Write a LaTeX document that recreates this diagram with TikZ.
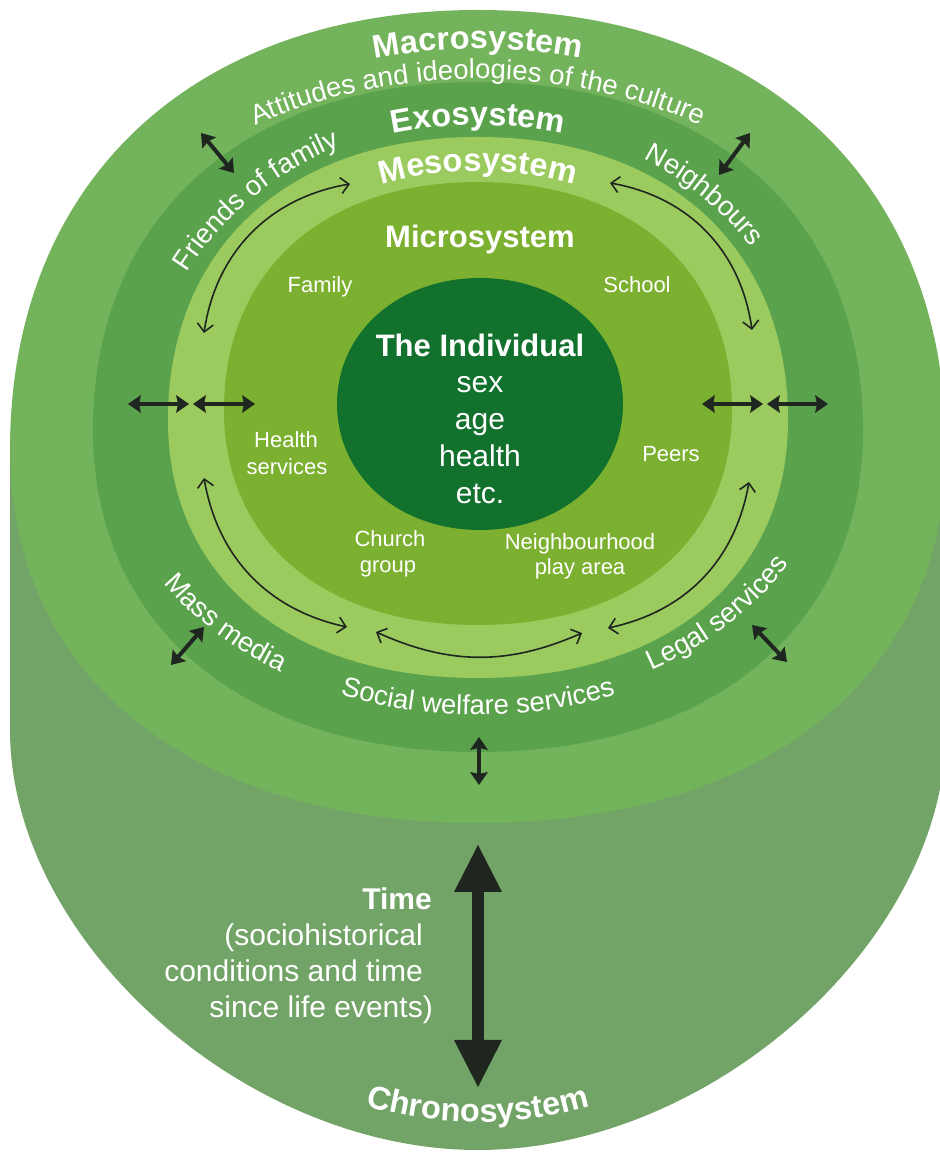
\documentclass[tikz,border=0pt]{standalone}
\usepackage{fontspec}
\setmainfont{Liberation Sans}
\usetikzlibrary{arrows.meta,decorations.text}
\definecolor{cchrono}{RGB}{114,164,103}
\definecolor{cmacro}{RGB}{115,179,91}
\definecolor{cexo}{RGB}{91,162,77}
\definecolor{cmeso}{RGB}{155,203,94}
\definecolor{cmicro}{RGB}{124,176,48}
\definecolor{cindiv}{RGB}{18,114,45}
\definecolor{carrow}{RGB}{31,38,32}
\newcommand\FtTitle{\bfseries\fontsize{31}{36}\selectfont}
\newcommand\FtArc{\bfseries\fontsize{32.5}{38}\selectfont}
\newcommand\FtRing{\fontsize{27.5}{32}\selectfont}
\newcommand\FtSmall{\fontsize{22}{27}\selectfont}
\newcommand\FtBig{\fontsize{30}{37}\selectfont}
\tikzset{
  superell/.style n args={6}{insert path={
    ({#1+#3},{#2}) .. controls ({#1+#3},{#2+#6*#4}) and ({#1+#6*#3},{#2+#4}) .. ({#1},{#2+#4})
    .. controls ({#1-#6*#3},{#2+#4}) and ({#1-#3},{#2+#6*#4}) .. ({#1-#3},{#2})
    .. controls ({#1-#3},{#2-#6*#5}) and ({#1-#6*#3},{#2-#5}) .. ({#1},{#2-#5})
    .. controls ({#1+#6*#3},{#2-#5}) and ({#1+#3},{#2-#6*#5}) .. ({#1+#3},{#2}) -- cycle}},
  thinarrow/.style={draw=carrow, line width=1.6pt,
    {Straight Barb[length=8pt,width=16pt]}-{Straight Barb[length=8pt,width=16pt]}},
  thickarrow/.style={draw=carrow, line width=4pt,
    {Stealth[length=13pt,width=18pt,inset=2pt,line width=0pt]}-{Stealth[length=13pt,width=18pt,inset=2pt,line width=0pt]}},
  bigarrow/.style={draw=carrow, line width=12pt,
    {Triangle[length=47pt,width=48pt,line width=0pt]}-{Triangle[length=47pt,width=48pt,line width=0pt]}},
  ringtext/.style={decorate, decoration={text along path, text align=center, text={#1}}},
  lbl/.style={text=white, inner sep=0pt, anchor=base},
}
\begin{document}
\begin{tikzpicture}[x=1pt,y=1pt]
\useasboundingbox (0,0) rectangle (940,1152);
\clip (0,0) rectangle (940,1152);
\fill[white] (0,0) rectangle (940,1152);
% chronosystem cylinder
\fill[cchrono] (10,702) -- (10,422) .. controls (10,212) and (244,2) .. (478,2)
  .. controls (712,2) and (946,212) .. (946,422) -- (946,702) -- cycle;
% rings
\fill[cmacro] [superell={478}{702}{468}{440}{373}{0.61}];
\fill[cexo]   [superell={478}{722}{385}{348}{322}{0.61}];
\fill[cmeso]  [superell={478}{732}{310}{283}{258}{0.61}];
\fill[cmicro] [superell={478}{742}{254}{228}{215}{0.61}];
\fill[cindiv] [superell={480}{748}{143}{126}{126}{0.57}];

% ring texts
\path[ringtext={|\color{white}\FtArc|Macrosystem}]
  ([shift={(478,712)}]140:470 and 391) arc[start angle=140,end angle=40,x radius=470,y radius=391];
\path[ringtext={|\color{white}\FtRing|Attitudes and ideologies of the culture}]
  ([shift={(478,712)}]165:455 and 361) arc[start angle=165,end angle=15,x radius=455,y radius=361];
\path[ringtext={|\color{white}\FtArc|Exosystem}]
  ([shift={(478,722)}]130:360 and 305) arc[start angle=130,end angle=50,x radius=360,y radius=305];
\path[ringtext={|\color{white}\FtArc|Mesosystem}]
  ([shift={(478,732)}]135:295 and 249) arc[start angle=135,end angle=45,x radius=295,y radius=249];
\path[ringtext={|\color{white}\FtRing|Friends of family}]
  ([shift={(478,727)}]173:336 and 306) arc[start angle=173,end angle=93,x radius=336,y radius=306];
\path[ringtext={|\color{white}\FtRing|Neighbours}]
  ([shift={(478,727)}]87:336 and 306) arc[start angle=87,end angle=7,x radius=336,y radius=306];
\path[ringtext={|\color{white}\FtRing|Mass media}]
  ([shift={(478,727)}]183:375 and 290) arc[start angle=183,end angle=263,x radius=375,y radius=290];
\path[ringtext={|\color{white}\FtRing|Social welfare services}]
  ([shift={(478,727)}]215:375 and 290) arc[start angle=215,end angle=325,x radius=375,y radius=290];
\path[ringtext={|\color{white}\FtRing|Legal services}]
  ([shift={(478,727)}]277:358 and 280) arc[start angle=277,end angle=357,x radius=358,y radius=280];
\path[ringtext={|\color{white}\FtArc|Chronosystem}]
  ([shift={(478,430)}]240:400) arc[start angle=240,end angle=300,radius=400];

% inner labels
\node[lbl, font=\FtTitle] (micro) at (480,904) {Microsystem};
\node[lbl, font=\FtTitle] (indiv) at (480,795) {The Individual};
\node[lbl, font=\FtBig] (sex) at (480,759) {sex};
\node[lbl, font=\FtBig] (age) at (480,722) {age};
\node[lbl, font=\FtBig] (health) at (480,685) {health};
\node[lbl, font=\FtBig] (etc) at (480,648) {etc.};
\node[lbl, font=\FtSmall] (family) at (320,859) {Family};
\node[lbl, font=\FtSmall] (school) at (637,859) {School};
\node[lbl, font=\FtSmall] (healthA) at (286,704) {Health};
\node[lbl, font=\FtSmall] (healthB) at (287,677) {services};
\node[lbl, font=\FtSmall] (peers) at (671,690) {Peers};
\node[lbl, font=\FtSmall] (churchA) at (390,605) {Church};
\node[lbl, font=\FtSmall] (churchB) at (388,579) {group};
\node[lbl, font=\FtSmall] (playA) at (580,602) {Neighbourhood};
\node[lbl, font=\FtSmall] (playB) at (580,577) {play area};

% time text
\node[lbl, anchor=base east, font=\FtBig\bfseries] (time) at (432,242) {Time};
\node[lbl, anchor=base east, font=\FtBig] (timeA) at (423,206) {(sociohistorical};
\node[lbl, anchor=base east, font=\FtBig] (timeB) at (423,170) {conditions and time};
\node[lbl, anchor=base east, font=\FtBig] (timeC) at (433,134) {since life events)};

% thin mesosystem arrows
\coordinate (a1s) at (204,819); \coordinate (a1e) at (350,968);
\coordinate (a2s) at (610,969); \coordinate (a2e) at (752,822);
\coordinate (a3s) at (204,674); \coordinate (a3e) at (347,525);
\coordinate (a4s) at (608,524); \coordinate (a4e) at (749,670);
\coordinate (a5s) at (376,520); \coordinate (a5e) at (582,519);
\draw[thinarrow] (a1s) to[bend left=36] (a1e);
\draw[thinarrow] (a2s) to[bend left=36] (a2e);
\draw[thinarrow] (a3s) to[bend right=34] (a3e);
\draw[thinarrow] (a4s) to[bend right=34] (a4e);
\draw[thinarrow] (a5s) to[bend right=24] (a5e);

% thick arrows
\coordinate (t1s) at (128,748); \coordinate (t1e) at (189,748);
\coordinate (t2s) at (193,748); \coordinate (t2e) at (255,748);
\coordinate (t3s) at (702,748); \coordinate (t3e) at (763,748);
\coordinate (t4s) at (767,748); \coordinate (t4e) at (828,748);
\coordinate (t5s) at (201,1019); \coordinate (t5e) at (234,979);
\coordinate (t6s) at (750,1019); \coordinate (t6e) at (719,977);
\coordinate (t7s) at (204,525); \coordinate (t7e) at (171,487);
\coordinate (t8s) at (752,527); \coordinate (t8e) at (787,490);
\coordinate (t9s) at (479,415); \coordinate (t9e) at (479,367);
\foreach \i in {1,...,9} {\draw[thickarrow] (t\i s) -- (t\i e);}
\coordinate (bigS) at (478,307); \coordinate (bigE) at (478,65);
\draw[bigarrow] (bigS) -- (bigE);
\end{tikzpicture}
\end{document}
